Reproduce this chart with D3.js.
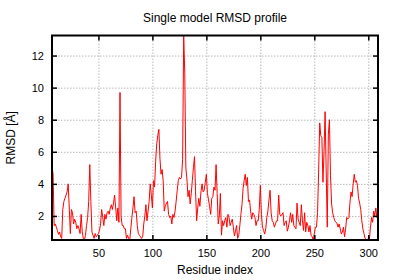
<!DOCTYPE html>
<html>
<head>
<meta charset="utf-8">
<script src="https://cdn.jsdelivr.net/npm/d3@7"></script>
<style>
  body { margin: 0; background: #fff; }
  text { font-family: "Liberation Sans", Arial, sans-serif; }
</style>
</head>
<body>
<div id="chart"></div>
<script>
// data
let firstResidue = 7;
let rmsd = [
  5.1, 4.6, 1.4, 1.5, 1.3, 1.1, 0.85, 1.0, 0.7, 0.6,
  2.4, 2.9, 3.1, 3.3, 3.5, 4.0, 2.5, 0.9, 2.4, 2.2,
  1.5, 1.8, 1.6, 1.2, 1.4, 1.2, 0.9, 2.1, 1.0, 0.6,
  0.5, 0.8, 1.4, 1.9, 2.9, 5.2, 2.9, 1.0, 0.8, 0.6,
  0.9, 0.7, 0.8, 0.9, 1.1, 1.5, 2.4, 1.9, 1.4, 2.1,
  1.8, 2.2, 2.3, 2.1, 2.5, 2.7, 2.4, 2.8, 3.3, 2.5,
  1.7, 2.5, 1.6, 9.7, 2.0, 1.4, 1.4, 1.2, 1.2, 0.6,
  0.8, 0.6, 0.5, 1.2, 1.9, 2.5, 3.2, 2.2, 2.3, 1.4,
  0.9, 0.8, 0.7, 0.6, 0.7, 1.5, 2.0, 2.7, 1.7, 2.3,
  2.9, 4.0, 3.3, 2.5, 4.2, 3.8, 5.4, 6.5, 7.0, 7.4,
  5.6, 4.6, 4.9, 4.2, 2.3, 2.6, 2.8, 2.9, 2.1, 1.9,
  2.0, 1.5, 2.1, 1.9, 2.3, 2.9, 3.6, 4.2, 4.4, 4.3,
  4.4, 5.5, 13.25, 10.9, 5.0, 4.3, 3.2, 3.6, 2.75, 3.4,
  4.2, 5.0, 5.7, 3.5, 1.7, 2.5, 3.1, 2.6, 3.5, 4.0,
  3.5, 3.6, 4.1, 4.6, 3.4, 3.0, 2.6, 2.1, 3.1, 3.2,
  3.8, 3.6, 5.2, 3.4, 1.5, 2.0, 3.4, 0.8, 1.7, 1.4,
  1.7, 1.9, 1.3, 2.1, 1.9, 1.4, 1.6, 1.8, 1.3, 0.75,
  1.05, 1.4, 0.6, 0.8, 1.4, 2.1, 2.7, 3.7, 4.2, 4.6,
  3.9, 4.4, 2.9, 3.0, 2.3, 1.8, 2.2, 2.1, 1.9, 1.4,
  1.7, 1.7, 2.4, 3.9, 2.1, 1.3, 1.1, 0.87, 1.2, 1.9,
  2.3, 3.0, 3.6, 2.2, 1.7, 1.6, 1.3, 1.5, 1.7, 1.7,
  3.3, 2.1, 2.0, 2.1, 2.2, 1.4, 1.6, 1.7, 1.05, 1.3,
  1.7, 2.2, 1.6, 2.1, 1.4, 1.3, 1.2, 2.8, 1.8, 1.6,
  1.4, 2.7, 1.7, 1.1, 2.2, 1.0, 1.6, 1.4, 1.0, 1.4,
  0.8, 0.7, 0.5, 0.9, 1.3, 1.3, 2.2, 4.8, 7.8, 7.0,
  6.9, 4.1, 6.0, 8.5, 4.8, 1.3, 7.1, 8.0, 4.5, 2.75,
  2.2, 1.9, 1.7, 1.6, 1.55, 1.3, 1.5, 1.2, 0.87, 1.0,
  1.3, 0.7, 1.2, 1.9, 1.8, 1.9, 2.8, 3.5, 3.2, 4.0,
  4.6, 4.1, 4.2, 3.9, 3.1, 2.8, 2.4, 1.7, 1.2, 0.9,
  0.6, 0.55, 0.5, 0.6, 0.5, 1.3, 1.9, 1.6, 2.3, 2.0,
  2.5, 1.9, 2.6
];
let xTicks = [50, 100, 150, 200, 250, 300];
let yTicks = [2, 4, 6, 8, 10, 12];

// svg dimensions
let svgWidth = 400,
    svgHeight = 280;

let margin = { top: 35.5, right: 22, bottom: 40, left: 52 };
let chartWidth = svgWidth - margin.left - margin.right;
let chartHeight = svgHeight - margin.top - margin.bottom;

let points = rmsd.map((v, i) => ({ res: firstResidue + i, rmsd: v }));

let svg = d3.select('#chart')
    .append('svg')
    .attr('width', svgWidth)
    .attr('height', svgHeight);

svg.append('rect')
    .attr('width', svgWidth)
    .attr('height', svgHeight)
    .attr('fill', '#fff');

let chartGroup = svg.append('g')
    .attr('transform', `translate(${margin.left}, ${margin.top})`);

// scales fitted to the data like gnuplot autoscale
let xScale = d3.scaleLinear()
    .domain(d3.extent(points, d => d.res))
    .range([0, chartWidth]);

let yScale = d3.scaleLinear()
    .domain(d3.extent(points, d => d.rmsd))
    .range([chartHeight, 0]);

// dotted grid
let gridX = chartGroup.append('g')
    .attr('transform', `translate(0, ${chartHeight})`)
    .call(d3.axisBottom(xScale).tickValues(xTicks).tickSize(-chartHeight).tickFormat(''));
let gridY = chartGroup.append('g')
    .call(d3.axisLeft(yScale).tickValues(yTicks).tickSize(-chartWidth).tickFormat(''));
[gridX, gridY].forEach(g => {
    g.select('.domain').remove();
    g.selectAll('line')
        .attr('stroke', '#b8b8b8')
        .attr('stroke-dasharray', '1.5,1.5');
});

// line
let line = d3.line()
    .x(d => xScale(d.res))
    .y(d => yScale(d.rmsd));

chartGroup.append('clipPath')
    .attr('id', 'clip')
    .append('rect')
    .attr('width', chartWidth)
    .attr('height', chartHeight);

chartGroup.append('path')
    .datum(points)
    .attr('clip-path', 'url(#clip)')
    .attr('fill', 'none')
    .attr('stroke', '#ff0000')
    .attr('stroke-width', 1)
    .attr('stroke-linejoin', 'round')
    .attr('d', line);

// axes, ticks inward and mirrored
let bottomAxis = chartGroup.append('g')
    .attr('transform', `translate(0, ${chartHeight})`)
    .call(d3.axisBottom(xScale).tickValues(xTicks).tickSize(-5).tickPadding(9));
let leftAxis = chartGroup.append('g')
    .call(d3.axisLeft(yScale).tickValues(yTicks).tickSize(-5).tickPadding(8));
let topAxis = chartGroup.append('g')
    .call(d3.axisTop(xScale).tickValues(xTicks).tickSize(-5).tickFormat(''));
let rightAxis = chartGroup.append('g')
    .attr('transform', `translate(${chartWidth}, 0)`)
    .call(d3.axisRight(yScale).tickValues(yTicks).tickSize(-5).tickFormat(''));

[bottomAxis, leftAxis, topAxis, rightAxis].forEach(g => {
    g.select('.domain').remove();
    g.selectAll('line').attr('stroke', '#000').attr('stroke-width', 1.5);
    g.selectAll('text')
        .attr('fill', '#000')
        .style('font-size', '11px')
        .style('font-family', '"Liberation Sans", Arial, sans-serif');
});

// frame
chartGroup.append('rect')
    .attr('width', chartWidth)
    .attr('height', chartHeight)
    .attr('fill', 'none')
    .attr('stroke', '#000')
    .attr('stroke-width', 2);

// titles
svg.append('text')
    .attr('x', margin.left + chartWidth / 2)
    .attr('y', 22)
    .attr('text-anchor', 'middle')
    .style('font-size', '12px')
    .text('Single model RMSD profile');

svg.append('text')
    .attr('x', margin.left + chartWidth / 2)
    .attr('y', 274)
    .attr('text-anchor', 'middle')
    .style('font-size', '12px')
    .text('Residue index');

svg.append('text')
    .attr('transform', `translate(15, ${margin.top + chartHeight / 2}) rotate(-90)`)
    .attr('text-anchor', 'middle')
    .style('font-size', '12px')
    .text('RMSD [Å]');
</script>
</body>
</html>
